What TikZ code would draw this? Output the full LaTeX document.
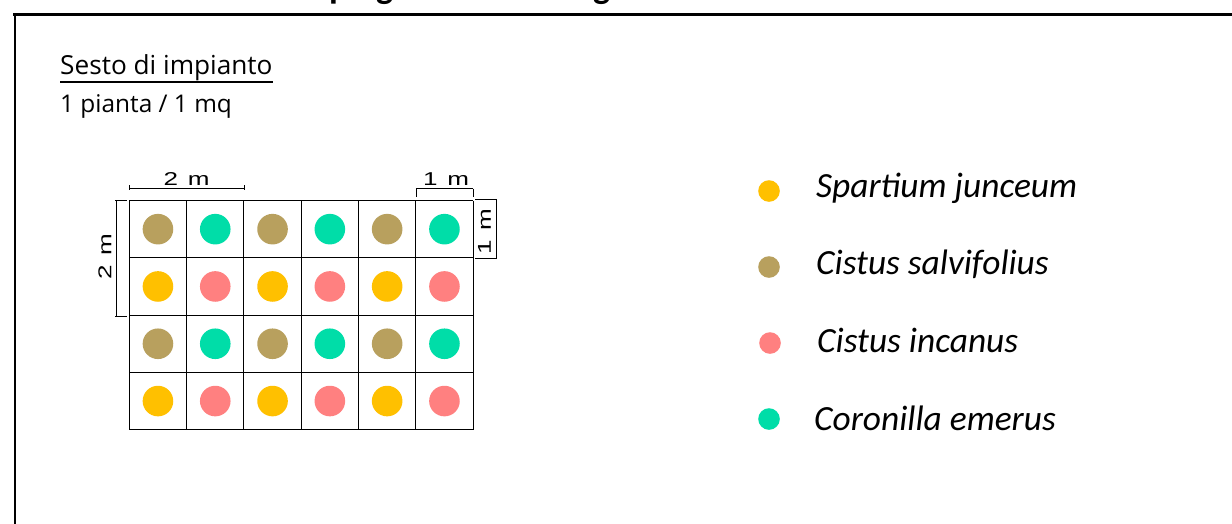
\documentclass[tikz,border=0pt]{standalone}
\usepackage{fontspec}
\setmainfont{Open Sans}
\newfontfamily\calib{Carlito}
\newfontfamily\arialf{Liberation Sans}
\definecolor{khaki}{HTML}{B8A05E}
\definecolor{tealc}{HTML}{00DDA8}
\definecolor{yel}{HTML}{FFC000}
\definecolor{pinkc}{HTML}{FF8080}
\tikzset{
  gridline/.style={draw=black, line width=1pt},
  dimline/.style={draw=black, line width=0.9pt},
  dimlabel/.style={inner sep=0pt, font=\arialf\fontsize{18.6}{20}\selectfont},
  plant/.style={circle, inner sep=0pt, minimum size=30.6pt},
  legdot/.style={circle, inner sep=0pt, minimum size=21.6pt},
  legtext/.style={anchor=base west, inner sep=0pt, font=\calib\itshape\fontsize{35.4}{40}\selectfont},
  titlefrag/.style={anchor=base west, inner sep=0pt, font=\calib\bfseries\fontsize{36}{40}\selectfont},
}
\newcommand{\dimtxt}[1]{\scalebox{1.4}[1]{#1\hspace{7pt}m}}
\begin{document}
\begin{tikzpicture}[x=1pt,y=-1pt]
\useasboundingbox (0,0) rectangle (1232,523);
\fill[white] (0,0) rectangle (1232,523);
% cut-off title (only descenders visible)
\begin{scope}
\clip (0,0) rectangle (1232,12);
\node[titlefrag] (tp) at (329,-2) {p};
\node[titlefrag] (tg1) at (376,-2) {g};
\node[titlefrag] (tg2) at (593,-2) {g};
\end{scope}
% frame
\draw[line width=2.6pt] (13,14.5) -- (1234,14.5);
\draw[line width=2pt] (14.5,13.5) -- (14.5,525);
% heading texts
\node[anchor=base west, inner sep=0pt, font=\fontsize{26.2}{30}\selectfont] (sesto) at (60,74) {Sesto di impianto};
\draw[line width=1.2pt] ([yshift=-8pt]sesto.base west) -- ([yshift=-8pt]sesto.base east);
\node[anchor=base west, inner sep=0pt, font=\fontsize{24.4}{30}\selectfont] (dens) at (60,112.5) {1 pianta / 1 mq};
% grid
\def\gx{129.3}\def\gy{200.5}\def\cs{57.3}
\foreach \i in {0,...,6} {
  \draw[gridline] ({\gx+\i*\cs},\gy) -- ({\gx+\i*\cs},{\gy+4*\cs});
}
\foreach \j in {0,...,4} {
  \draw[gridline] (\gx,{\gy+\j*\cs}) -- ({\gx+6*\cs},{\gy+\j*\cs});
}
% plants
\foreach \i in {0,...,5} {
  \pgfmathsetmacro{\cx}{\gx+(\i+0.5)*\cs}
  \pgfmathtruncatemacro{\parity}{mod(\i,2)}
  \ifnum\parity=0
    \node[plant, fill=khaki] (p1\i) at (\cx,{\gy+0.5*\cs}) {};
    \node[plant, fill=yel] (p2\i) at (\cx,{\gy+1.5*\cs}) {};
    \node[plant, fill=khaki] (p3\i) at (\cx,{\gy+2.5*\cs}) {};
    \node[plant, fill=yel] (p4\i) at (\cx,{\gy+3.5*\cs}) {};
  \else
    \node[plant, fill=tealc] (p1\i) at (\cx,{\gy+0.5*\cs}) {};
    \node[plant, fill=pinkc] (p2\i) at (\cx,{\gy+1.5*\cs}) {};
    \node[plant, fill=tealc] (p3\i) at (\cx,{\gy+2.5*\cs}) {};
    \node[plant, fill=pinkc] (p4\i) at (\cx,{\gy+3.5*\cs}) {};
  \fi
}
% dimension: top 2 m
\draw[dimline] (129.3,188) -- (244.5,188);
\draw[dimline] (129.3,185) -- (129.3,190);
\draw[dimline] (244.5,185) -- (244.5,190);
\node[dimlabel, anchor=base] (d2top) at (186.5,185) {\dimtxt{2}};
% dimension: top 1 m
\draw[dimline] (416,188.5) -- (473.3,188.5);
\draw[dimline] (416,188.5) -- (416,197);
\draw[dimline] (473.3,188.5) -- (473.3,197);
\node[dimlabel, anchor=base] (d1top) at (446,185) {\dimtxt{1}};
% dimension: right 1 m
\draw[dimline] (496,199.5) -- (496,258.5);
\draw[dimline] (475,199.5) -- (497,199.5);
\draw[dimline] (475,258.5) -- (497,258.5);
\node[dimlabel, rotate=90] (d1right) at (484.5,232) {\dimtxt{1}};
% dimension: left 2 m
\draw[dimline] (116.7,200.5) -- (116.7,316);
\draw[dimline] (115,200.5) -- (127,200.5);
\draw[dimline] (115,316) -- (127,316);
\node[dimlabel, rotate=90] (d2left) at (105,257) {\dimtxt{2}};
% legend
\node[legdot, fill=yel] (l1) at (769,191) {};
\node[legdot, fill=khaki] (l2) at (769,267) {};
\node[legdot, fill=pinkc] (l3) at (770,343) {};
\node[legdot, fill=tealc] (l4) at (769,419) {};
\node[legtext] (t1) at (816,197) {Spartium junceum};
\node[legtext] (t2) at (816,274.5) {Cistus salvifolius};
\node[legtext] (t3) at (817,352) {Cistus incanus};
\node[legtext] (t4) at (814,430) {Coronilla emerus};
\end{tikzpicture}
\end{document}
